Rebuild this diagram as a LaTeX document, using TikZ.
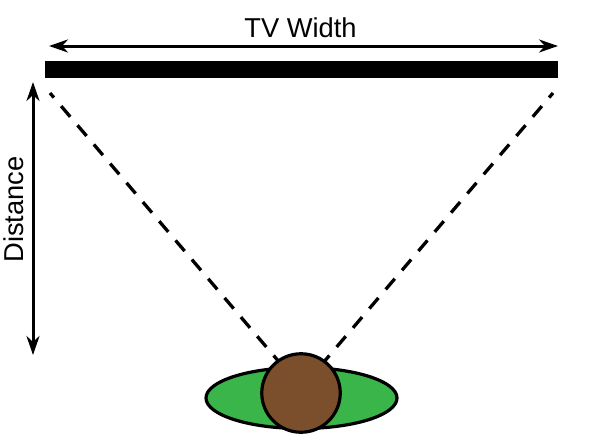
\documentclass[tikz,border=0pt]{standalone}
\usepackage{fontspec}
\setmainfont{Liberation Sans}
\usetikzlibrary{arrows.meta,shapes.geometric}
\definecolor{bodygreen}{HTML}{3AB54A}
\definecolor{headbrown}{HTML}{7B4F2B}
\tikzset{
  px/.style={x=1pt,y=-1pt},
  dim/.style={line width=3pt,{Stealth[length=19pt,width=13pt,inset=6pt]}-{Stealth[length=19pt,width=13pt,inset=6pt]}},
  sight/.style={line width=3.3pt,dash pattern=on 14pt off 11.2pt,dash phase=8pt},
  tvbar/.style={fill=black,draw=none,minimum width=513pt,minimum height=17pt,inner sep=0pt},
  body/.style={ellipse,draw=black,line width=3.2pt,fill=bodygreen,minimum width=191pt,minimum height=61pt,inner sep=0pt},
  headc/.style={circle,draw=black,line width=3.2pt,fill=headbrown,minimum size=78.5pt,inner sep=0pt},
  lbl/.style={inner sep=0pt,font=\fontsize{27.3pt}{30pt}\selectfont}
}
\begin{document}
\begin{tikzpicture}[px]
\useasboundingbox (0,0) rectangle (600,447);
\fill[white] (0,0) rectangle (600,447);
\node[tvbar] (tv) at (301.5,69.5) {};
\coordinate (wl) at (49,46);
\coordinate (wr) at (558,46);
\coordinate (dt) at (33,82);
\coordinate (db) at (33,355);
\coordinate (sl) at (50,93);
\coordinate (sr) at (553,93);
\coordinate (el) at (280,363);
\coordinate (er) at (323,363);
\draw[dim] (wl) -- (wr);
\draw[dim] (dt) -- (db);
\draw[sight] (sl) -- (el);
\draw[sight] (sr) -- (er);
\node[body] (torso) at (301.5,398) {};
\node[headc] (head) at (301,393) {};
\node[lbl] (width) at (300.5,28) {TV Width};
\node[lbl,rotate=90] (dist) at (14,209.5) {Distance};
\end{tikzpicture}
\end{document}
